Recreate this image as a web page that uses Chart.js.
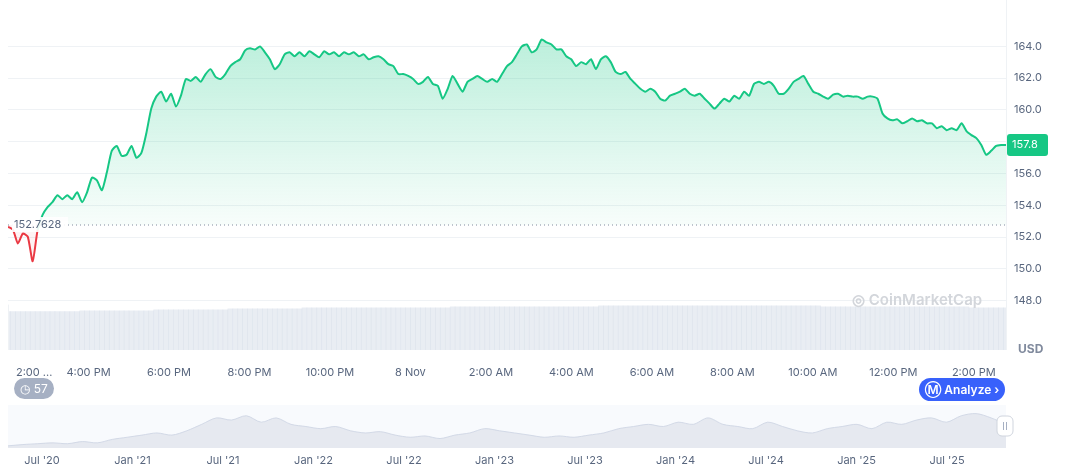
<!DOCTYPE html>
<html><head><meta charset="utf-8">
<script src="https://cdn.jsdelivr.net/npm/chart.js@4.4.1/dist/chart.umd.min.js"></script>
<style>
body{margin:0;width:1072px;height:470px;background:#fff;font-family:Inter,"Noto Sans",sans-serif;position:relative;overflow:hidden}
#c1{position:absolute;left:0;top:0}
#c2{position:absolute;left:0;top:400px}
.badge{position:absolute;left:14px;top:378px;width:40px;height:21px;background:#a6b0c3;color:#fff;border-radius:11px;font-size:12px;line-height:21px;text-align:center}
.an{position:absolute;left:919px;top:378px;width:86px;height:23px;background:#3861fb;color:#fff;border-radius:12px;font-size:12px;font-weight:600;line-height:23px;text-align:center}
.usd{position:absolute;left:1018px;top:341px;font-size:12px;font-weight:700;color:#808a9d}
.wm{position:absolute;left:852px;top:290px;font-size:15px;font-weight:600;color:#d3d6db}
</style></head><body>
<canvas id="c1" width="1072" height="382"></canvas>
<canvas id="c2" width="1072" height="70"></canvas>
<div class="wm">◎ CoinMarketCap</div>
<div class="usd">USD</div>
<div class="badge">◷ 57</div>
<div class="an">Ⓜ Analyze ›</div>
<script>
const prices=[152.65,152.47,151.60,152.22,152.03,150.48,152.47,153.40,153.89,154.20,154.64,154.39,154.64,154.39,154.82,154.20,154.82,155.75,155.57,154.95,156.06,157.43,157.74,157.12,157.18,157.74,156.99,157.30,158.54,160.09,160.84,161.15,160.53,161.02,160.22,160.90,161.95,161.83,162.08,161.77,162.26,162.57,162.08,161.95,162.26,162.76,163.01,163.19,163.75,163.88,163.81,164.00,163.63,163.19,162.57,162.88,163.50,163.63,163.38,163.63,163.38,163.69,163.50,163.32,163.69,163.50,163.63,163.38,163.63,163.50,163.63,163.38,163.50,163.19,163.32,163.38,163.19,162.88,162.76,162.26,162.26,162.14,161.95,161.64,161.77,162.08,161.64,161.52,160.71,161.33,162.14,161.64,161.15,161.77,161.95,162.14,161.95,161.77,161.95,161.77,162.26,162.76,163.01,163.50,164.00,164.12,163.63,163.81,164.43,164.25,164.12,163.81,163.81,163.38,163.19,162.76,163.01,162.88,163.19,162.57,163.19,163.38,163.01,162.39,162.26,162.39,161.95,161.64,161.33,161.15,161.33,161.15,160.71,160.59,160.90,161.02,161.15,161.33,161.02,160.90,161.02,160.71,160.40,160.09,160.40,160.71,160.53,160.90,160.71,161.15,160.90,161.64,161.77,161.64,161.77,161.52,161.02,161.02,161.33,161.77,161.95,162.14,161.64,161.15,161.02,160.84,160.71,160.96,161.02,160.84,160.90,160.84,160.84,160.71,160.84,160.84,160.71,159.78,159.47,159.35,159.41,159.16,159.29,159.47,159.29,159.35,159.16,159.16,158.85,158.98,158.73,158.85,158.73,159.16,158.67,158.42,158.23,157.80,157.18,157.43,157.74,157.80,157.80];
const volumes=prices.map((p,i)=>[40,41,42,43,44,44,45,45,46,46,46,45,45,44][Math.floor(i/15)]);
const baseline=152.7628;
const hourSpan=24.8;
const hours=prices.map((p,i)=>i*hourSpan/(prices.length-1));
const tickLabels=["2:00 ...","4:00 PM","6:00 PM","8:00 PM","10:00 PM","8 Nov","2:00 AM","4:00 AM","6:00 AM","8:00 AM","10:00 AM","12:00 PM","2:00 PM"];
const tickHours=[0.65,2,4,6,8,10,12,14,16,18,20,22,24];
const navLabels=["Jul '20","Jan '21","Jul '21","Jan '22","Jul '22","Jan '23","Jul '23","Jan '24","Jul '24","Jan '25","Jul '25"];
const navValues=[0.05,0.08,0.1,0.12,0.1,0.15,0.12,0.2,0.25,0.3,0.35,0.3,0.4,0.55,0.7,0.65,0.75,0.6,0.7,0.55,0.5,0.45,0.5,0.4,0.35,0.38,0.3,0.25,0.28,0.22,0.3,0.35,0.45,0.4,0.35,0.3,0.25,0.28,0.25,0.3,0.35,0.45,0.5,0.55,0.5,0.6,0.55,0.7,0.55,0.5,0.45,0.6,0.5,0.4,0.35,0.45,0.5,0.55,0.45,0.6,0.55,0.65,0.7,0.6,0.75,0.8,0.7,0.55];
const G='#16c784',R='#ea3943';
const deco={id:'deco',afterDatasetsDraw(ch){const c=ch.ctx,y=ch.scales.y,a=ch.chartArea;
 const by=y.getPixelForValue(baseline);
 c.save();c.setLineDash([1,3]);c.strokeStyle='#808a9d';c.lineWidth=1;c.beginPath();c.moveTo(a.left,by);c.lineTo(a.right,by);c.stroke();c.setLineDash([]);
 c.font='11px Inter';c.fillStyle='rgba(255,255,255,0.9)';c.fillRect(a.left+4,by-8,56,15);c.fillStyle='#58667e';c.textBaseline='middle';c.fillText('152.7628',a.left+6,by);
 const last=prices[prices.length-1],ly=y.getPixelForValue(last);
 c.fillStyle=G;c.beginPath();c.roundRect(a.right+1,ly-11,41,22,3);c.fill();c.fillStyle='#fff';c.font='11px Inter';c.fillText(last.toFixed(1),a.right+6,ly);
 c.strokeStyle='#eff2f5';c.beginPath();c.moveTo(a.right+0.5,0);c.lineTo(a.right+0.5,a.bottom);c.moveTo(a.left+0.5,a.top+290);c.lineTo(a.left+0.5,a.bottom);c.stroke();
 c.restore();}};
new Chart(document.getElementById('c1'),{data:{datasets:[
 {type:'line',data:hours.map((h,i)=>({x:h,y:prices[i]})),borderWidth:2,pointRadius:0,tension:0.2,yAxisID:'y',order:1,
  segment:{borderColor:s=>(s.p0.parsed.y<baseline&&s.p1.parsed.y<baseline)||s.p1.parsed.y<baseline-0.3?R:G},borderColor:G,
  fill:{target:{value:baseline},above:ctx=>{const ch=ctx.chart,a=ch.chartArea;if(!a)return 'rgba(22,199,132,0.2)';const g=ch.ctx.createLinearGradient(0,a.top,0,ch.scales.y.getPixelForValue(baseline));g.addColorStop(0,'rgba(22,199,132,0.32)');g.addColorStop(1,'rgba(22,199,132,0.03)');return g;},below:'rgba(234,57,67,0.06)'}},
 {type:'bar',data:hours.map((h,i)=>({x:h,y:volumes[i]})),backgroundColor:'rgba(207,214,228,0.45)',yAxisID:'v',barPercentage:1,categoryPercentage:1,order:2}
]},options:{responsive:false,animation:false,layout:{padding:{left:8,top:10}},
 plugins:{legend:{display:false},tooltip:{enabled:false}},
 scales:{x:{type:'linear',offset:false,min:0,max:hourSpan,grid:{display:false,offset:false},border:{display:false},
   afterBuildTicks:s=>{s.ticks=tickHours.map(v=>({value:v}));},
   ticks:{autoSkip:false,maxRotation:0,color:'#58667e',font:{size:11,family:'Inter'},padding:8,callback:(v,i)=>tickLabels[i]},afterFit:s=>{s.height=32}},
  y:{position:'right',min:144.9,max:166,afterBuildTicks:s=>{s.ticks=[148,150,152,154,156,158,160,162,164].map(v=>({value:v}));},
   grid:{color:'#eff2f5',drawTicks:false},border:{display:false},ticks:{color:'#58667e',font:{size:11,family:'Inter'},padding:8,callback:v=>v===158?'':v.toFixed(1)},afterFit:s=>{s.width=66}},
  v:{display:false,min:0,max:350}}},plugins:[deco]});
new Chart(document.getElementById('c2'),{type:'line',data:{labels:navValues.map((v,i)=>i),datasets:[{data:navValues,borderColor:'rgba(207,214,228,0.9)',borderWidth:1,pointRadius:0,fill:'origin',backgroundColor:'rgba(225,229,236,0.8)',tension:0.3}]},
 options:{responsive:false,animation:false,layout:{padding:{left:8,right:66,top:5,bottom:22}},plugins:{legend:{display:false},tooltip:{enabled:false}},
 scales:{x:{display:false},y:{display:false,min:0,max:1}}},
 plugins:[{id:'nl',afterDraw(ch){const c=ch.ctx;
  c.save();c.font='11px Inter';c.fillStyle='#58667e';c.textAlign='center';navLabels.forEach((l,i)=>c.fillText(l,42+i*90.5,64));
  c.fillStyle='#fff';c.strokeStyle='#d0d5de';c.beginPath();c.roundRect(997,16,16,20,5);c.fill();c.stroke();c.fillStyle='#a6b0c3';c.fillRect(1003,22,1,8);c.fillRect(1006,22,1,8);c.restore();},
  beforeDatasetsDraw(ch){const c=ch.ctx,a=ch.chartArea;c.save();c.fillStyle='#f8fafd';c.fillRect(a.left,a.top,a.right-a.left,a.bottom-a.top);c.restore();}}]});
</script></body></html>
